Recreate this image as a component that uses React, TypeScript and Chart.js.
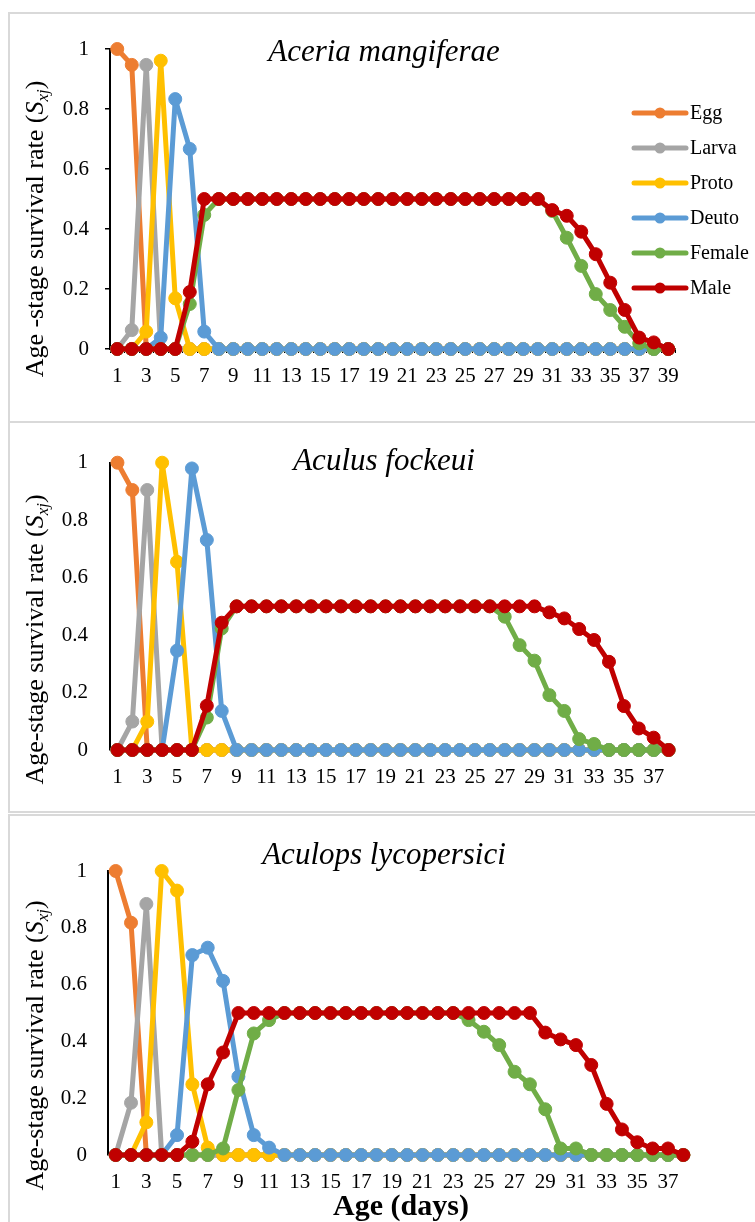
import React, { useEffect, useRef } from 'react';
import { Chart, registerables } from 'chart.js';

Chart.register(...registerables);

const SERIF = "'Liberation Serif', 'Times New Roman', Times, serif";

const stageNames = ['Egg', 'Larva', 'Proto', 'Deuto', 'Female', 'Male'];
const stageColors = ['#ED7D31', '#A5A5A5', '#FFC000', '#5B9BD5', '#70AD47', '#C00000'];

// Tick / category labels
const days39 = ['1', '2', '3', '4', '5', '6', '7', '8', '9', '10', '11', '12', '13', '14', '15', '16', '17', '18', '19', '20', '21', '22', '23', '24', '25', '26', '27', '28', '29', '30', '31', '32', '33', '34', '35', '36', '37', '38', '39'];
const days38 = ['1', '2', '3', '4', '5', '6', '7', '8', '9', '10', '11', '12', '13', '14', '15', '16', '17', '18', '19', '20', '21', '22', '23', '24', '25', '26', '27', '28', '29', '30', '31', '32', '33', '34', '35', '36', '37', '38'];
const yTickValues = [0, 0.2, 0.4, 0.6, 0.8, 1];

// Aceria mangiferae (days 1-39)
const egg1 = [1, 0.947, 0, 0, 0, 0, 0, 0, 0, 0, 0, 0, 0, 0, 0, 0, 0, 0, 0, 0, 0, 0, 0, 0, 0, 0, 0, 0, 0, 0, 0, 0, 0, 0, 0, 0, 0, 0, 0];
const larva1 = [0, 0.063, 0.947, 0, 0, 0, 0, 0, 0, 0, 0, 0, 0, 0, 0, 0, 0, 0, 0, 0, 0, 0, 0, 0, 0, 0, 0, 0, 0, 0, 0, 0, 0, 0, 0, 0, 0, 0, 0];
const proto1 = [0, 0, 0.058, 0.961, 0.169, 0, 0, 0, 0, 0, 0, 0, 0, 0, 0, 0, 0, 0, 0, 0, 0, 0, 0, 0, 0, 0, 0, 0, 0, 0, 0, 0, 0, 0, 0, 0, 0, 0, 0];
const deuto1 = [0, 0, 0, 0.038, 0.833, 0.667, 0.058, 0, 0, 0, 0, 0, 0, 0, 0, 0, 0, 0, 0, 0, 0, 0, 0, 0, 0, 0, 0, 0, 0, 0, 0, 0, 0, 0, 0, 0, 0, 0, 0];
const female1 = [0, 0, 0, 0, 0, 0.15, 0.447, 0.5, 0.5, 0.5, 0.5, 0.5, 0.5, 0.5, 0.5, 0.5, 0.5, 0.5, 0.5, 0.5, 0.5, 0.5, 0.5, 0.5, 0.5, 0.5, 0.5, 0.5, 0.5, 0.5, 0.46, 0.371, 0.277, 0.183, 0.13, 0.074, 0.019, 0, 0];
const male1 = [0, 0, 0, 0, 0, 0.19, 0.5, 0.5, 0.5, 0.5, 0.5, 0.5, 0.5, 0.5, 0.5, 0.5, 0.5, 0.5, 0.5, 0.5, 0.5, 0.5, 0.5, 0.5, 0.5, 0.5, 0.5, 0.5, 0.5, 0.5, 0.463, 0.444, 0.391, 0.316, 0.221, 0.13, 0.038, 0.022, 0];

// Aculus fockeui (days 1-38)
const egg2 = [1, 0.905, 0, 0, 0, 0, 0, 0, 0, 0, 0, 0, 0, 0, 0, 0, 0, 0, 0, 0, 0, 0, 0, 0, 0, 0, 0, 0, 0, 0, 0, 0, 0, 0, 0, 0, 0, 0];
const larva2 = [0, 0.099, 0.905, 0, 0, 0, 0, 0, 0, 0, 0, 0, 0, 0, 0, 0, 0, 0, 0, 0, 0, 0, 0, 0, 0, 0, 0, 0, 0, 0, 0, 0, 0, 0, 0, 0, 0, 0];
const proto2 = [0, 0, 0.099, 1, 0.655, 0, 0, 0, 0, 0, 0, 0, 0, 0, 0, 0, 0, 0, 0, 0, 0, 0, 0, 0, 0, 0, 0, 0, 0, 0, 0, 0, 0, 0, 0, 0, 0, 0];
const deuto2 = [0, 0, 0, 0, 0.346, 0.98, 0.731, 0.136, 0, 0, 0, 0, 0, 0, 0, 0, 0, 0, 0, 0, 0, 0, 0, 0, 0, 0, 0, 0, 0, 0, 0, 0, 0, 0, 0, 0, 0, 0];
const female2 = [0, 0, 0, 0, 0, 0, 0.113, 0.423, 0.5, 0.5, 0.5, 0.5, 0.5, 0.5, 0.5, 0.5, 0.5, 0.5, 0.5, 0.5, 0.5, 0.5, 0.5, 0.5, 0.5, 0.5, 0.464, 0.365, 0.311, 0.191, 0.136, 0.038, 0.021, 0, 0, 0, 0, 0];
const male2 = [0, 0, 0, 0, 0, 0, 0.154, 0.443, 0.5, 0.5, 0.5, 0.5, 0.5, 0.5, 0.5, 0.5, 0.5, 0.5, 0.5, 0.5, 0.5, 0.5, 0.5, 0.5, 0.5, 0.5, 0.5, 0.5, 0.5, 0.479, 0.458, 0.421, 0.383, 0.307, 0.153, 0.075, 0.043, 0];

// Aculops lycopersici (days 1-38)
const egg3 = [1, 0.818, 0, 0, 0, 0, 0, 0, 0, 0, 0, 0, 0, 0, 0, 0, 0, 0, 0, 0, 0, 0, 0, 0, 0, 0, 0, 0, 0, 0, 0, 0, 0, 0, 0, 0, 0, 0];
const larva3 = [0, 0.184, 0.884, 0, 0, 0, 0, 0, 0, 0, 0, 0, 0, 0, 0, 0, 0, 0, 0, 0, 0, 0, 0, 0, 0, 0, 0, 0, 0, 0, 0, 0, 0, 0, 0, 0, 0, 0];
const proto3 = [0, 0, 0.115, 1, 0.931, 0.249, 0.026, 0, 0, 0, 0, 0, 0, 0, 0, 0, 0, 0, 0, 0, 0, 0, 0, 0, 0, 0, 0, 0, 0, 0, 0, 0, 0, 0, 0, 0, 0, 0];
const deuto3 = [0, 0, 0, 0, 0.07, 0.704, 0.73, 0.613, 0.276, 0.07, 0.026, 0, 0, 0, 0, 0, 0, 0, 0, 0, 0, 0, 0, 0, 0, 0, 0, 0, 0, 0, 0, 0, 0, 0, 0, 0, 0, 0];
const female3 = [0, 0, 0, 0, 0, 0, 0, 0.023, 0.229, 0.428, 0.475, 0.5, 0.5, 0.5, 0.5, 0.5, 0.5, 0.5, 0.5, 0.5, 0.5, 0.5, 0.5, 0.475, 0.434, 0.387, 0.293, 0.249, 0.161, 0.023, 0.023, 0, 0, 0, 0, 0, 0, 0];
const male3 = [0, 0, 0, 0, 0, 0.047, 0.249, 0.361, 0.5, 0.5, 0.5, 0.5, 0.5, 0.5, 0.5, 0.5, 0.5, 0.5, 0.5, 0.5, 0.5, 0.5, 0.5, 0.5, 0.5, 0.5, 0.5, 0.5, 0.431, 0.407, 0.387, 0.317, 0.18, 0.09, 0.045, 0.023, 0.023, 0];

type PanelSpec = {
  top: number;
  height: number;
  labels: string[];
  series: number[][];
  title: string;
  yTitle: string;
  padTop: number;
  padRight: number;
  yWidth: number;
  xHeight: number;
  showXAxis: boolean;
  yTickMarks: boolean;
  yPad: number;
  xPad: number;
  titleY: number;
  yTitleCY: number;
  legend: boolean;
  xTitle: boolean;
};

const panels: PanelSpec[] = [
  {
    top: 13, height: 408, labels: days39,
    series: [egg1, larva1, proto1, deuto1, female1, male1],
    title: 'Aceria mangiferae', yTitle: 'Age -stage survival rate (',
    padTop: 36, padRight: 79.5, yWidth: 110, xHeight: 72,
    showXAxis: true, yTickMarks: true, yPad: 16, xPad: 11,
    titleY: 48, yTitleCY: 216, legend: true, xTitle: false,
  },
  {
    top: 421, height: 393, labels: days38,
    series: [egg2, larva2, proto2, deuto2, female2, male2],
    title: 'Aculus fockeui', yTitle: 'Age-stage survival rate (',
    padTop: 41.7, padRight: 79, yWidth: 110, xHeight: 64,
    showXAxis: false, yTickMarks: false, yPad: 22, xPad: 15,
    titleY: 49, yTitleCY: 218.5, legend: false, xTitle: false,
  },
  {
    top: 815, height: 407, labels: days38,
    series: [egg3, larva3, proto3, deuto3, female3, male3],
    title: 'Aculops lycopersici', yTitle: 'Age-stage survival rate (',
    padTop: 56, padRight: 64, yWidth: 108, xHeight: 67,
    showXAxis: false, yTickMarks: false, yPad: 21, xPad: 15,
    titleY: 49, yTitleCY: 230.5, legend: false, xTitle: true,
  },
];

function overlayPlugin(p: PanelSpec) {
  return {
    id: 'overlay',
    afterDraw(chart: any) {
      const ctx: CanvasRenderingContext2D = chart.ctx;
      ctx.save();
      ctx.fillStyle = '#000';
      // panel title
      ctx.font = `italic 31px ${SERIF}`;
      ctx.textAlign = 'center';
      ctx.textBaseline = 'alphabetic';
      ctx.fillText(p.title, 384, p.titleY);

      // y-axis title with subscript
      const parts = [
        { t: p.yTitle, f: `26px ${SERIF}`, dy: 0 },
        { t: 'S', f: `italic 26px ${SERIF}`, dy: 0 },
        { t: 'xj', f: `italic 17px ${SERIF}`, dy: 5 },
        { t: ')', f: `26px ${SERIF}`, dy: 0 },
      ];
      let total = 0;
      const widths = parts.map((pt) => {
        ctx.font = pt.f;
        const w = ctx.measureText(pt.t).width;
        total += w;
        return w;
      });
      ctx.translate(43, p.yTitleCY);
      ctx.rotate(-Math.PI / 2);
      ctx.textAlign = 'left';
      let x = -total / 2;
      parts.forEach((pt, i) => {
        ctx.font = pt.f;
        ctx.fillText(pt.t, x, pt.dy);
        x += widths[i];
      });
      ctx.setTransform(1, 0, 0, 1, 0, 0);

      // legend
      if (p.legend) {
        stageNames.forEach((name, i) => {
          const y = 100 + i * 35;
          ctx.strokeStyle = stageColors[i];
          ctx.lineWidth = 5;
          ctx.lineCap = 'round';
          ctx.beginPath();
          ctx.moveTo(634, y);
          ctx.lineTo(686, y);
          ctx.stroke();
          ctx.fillStyle = stageColors[i];
          ctx.beginPath();
          ctx.arc(660, y, 5.5, 0, Math.PI * 2);
          ctx.fill();
          ctx.fillStyle = '#000';
          ctx.font = `20px ${SERIF}`;
          ctx.textAlign = 'left';
          ctx.textBaseline = 'middle';
          ctx.fillText(name, 690, y + 1);
        });
      }

      // x-axis title
      if (p.xTitle) {
        ctx.fillStyle = '#000';
        ctx.font = `bold 30px ${SERIF}`;
        ctx.textAlign = 'center';
        ctx.textBaseline = 'alphabetic';
        ctx.fillText('Age (days)', 401, 400);
      }
      ctx.restore();
    },
  };
}

function Panel({ spec }: { spec: PanelSpec }) {
  const ref = useRef<HTMLCanvasElement>(null);
  useEffect(() => {
    if (!ref.current) return;
    const labels = spec.labels;
    const chart = new Chart(ref.current, {
      type: 'line',
      data: {
        labels,
        datasets: spec.series.map((data, i) => ({
          label: stageNames[i],
          data,
          borderColor: stageColors[i],
          backgroundColor: stageColors[i],
          pointBackgroundColor: stageColors[i],
          pointBorderColor: stageColors[i],
          pointRadius: 6.5,
          pointBorderWidth: 1,
          borderWidth: 5,
          borderJoinStyle: 'round',
          borderCapStyle: 'round',
          tension: 0,
          clip: false as any,
          order: 6 - i,
        })),
      },
      options: {
        animation: false,
        responsive: false,
        maintainAspectRatio: false,
        events: [],
        layout: { padding: { left: 0, right: spec.padRight, top: spec.padTop, bottom: 0 } },
        plugins: {
          legend: { display: false },
          tooltip: { enabled: false },
          title: { display: false },
        },
        scales: {
          x: {
            type: 'category',
            offset: true,
            grid: {
              display: spec.showXAxis,
              drawOnChartArea: false,
              drawTicks: spec.showXAxis,
              tickLength: 4,
              offset: true,
              color: '#000',
              lineWidth: 1,
            },
            border: { display: spec.showXAxis, color: '#000', width: 2 },
            ticks: {
              autoSkip: false,
              maxRotation: 0,
              minRotation: 0,
              color: '#000',
              padding: spec.xPad,
              font: { family: SERIF, size: 21 },
              callback: (_v: any, i: number) => (i % 2 === 0 ? labels[i] : ''),
            },
            afterFit: (s: any) => {
              s.height = spec.xHeight;
            },
          },
          y: {
            min: 0,
            max: 1,
            afterBuildTicks: (s: any) => {
              s.ticks = yTickValues.map((v) => ({ value: v }));
            },
            grid: {
              display: spec.yTickMarks,
              drawOnChartArea: false,
              drawTicks: spec.yTickMarks,
              tickLength: 5,
              color: '#000',
              lineWidth: 1.5,
            },
            border: { display: true, color: '#000', width: 2 },
            ticks: {
              color: '#000',
              padding: spec.yPad,
              font: { family: SERIF, size: 21 },
              callback: (v: any) => String(Math.round(Number(v) * 10) / 10),
            },
            afterFit: (s: any) => {
              s.width = spec.yWidth;
            },
          },
        },
      } as any,
      plugins: [overlayPlugin(spec)],
    });
    return () => chart.destroy();
  }, [spec]);

  return (
    <canvas
      ref={ref}
      width={755}
      height={spec.height}
      style={{ position: 'absolute', left: 0, top: spec.top, width: 755, height: spec.height }}
    />
  );
}

export default function App() {
  const border = '2px solid #d9d9d9';
  return (
    <div style={{ position: 'absolute', left: 0, top: 0, width: 755, height: 1222, background: '#fff', overflow: 'hidden' }}>
      <div style={{ position: 'absolute', left: 8, top: 12, width: 800, height: 407, borderTop: border, borderLeft: border, borderBottom: border }} />
      <div style={{ position: 'absolute', left: 8, top: 421, width: 800, height: 390, borderLeft: border, borderBottom: border }} />
      <div style={{ position: 'absolute', left: 8, top: 814, width: 800, height: 420, borderTop: border, borderLeft: border }} />
      {panels.map((p, i) => (
        <Panel key={i} spec={p} />
      ))}
    </div>
  );
}
